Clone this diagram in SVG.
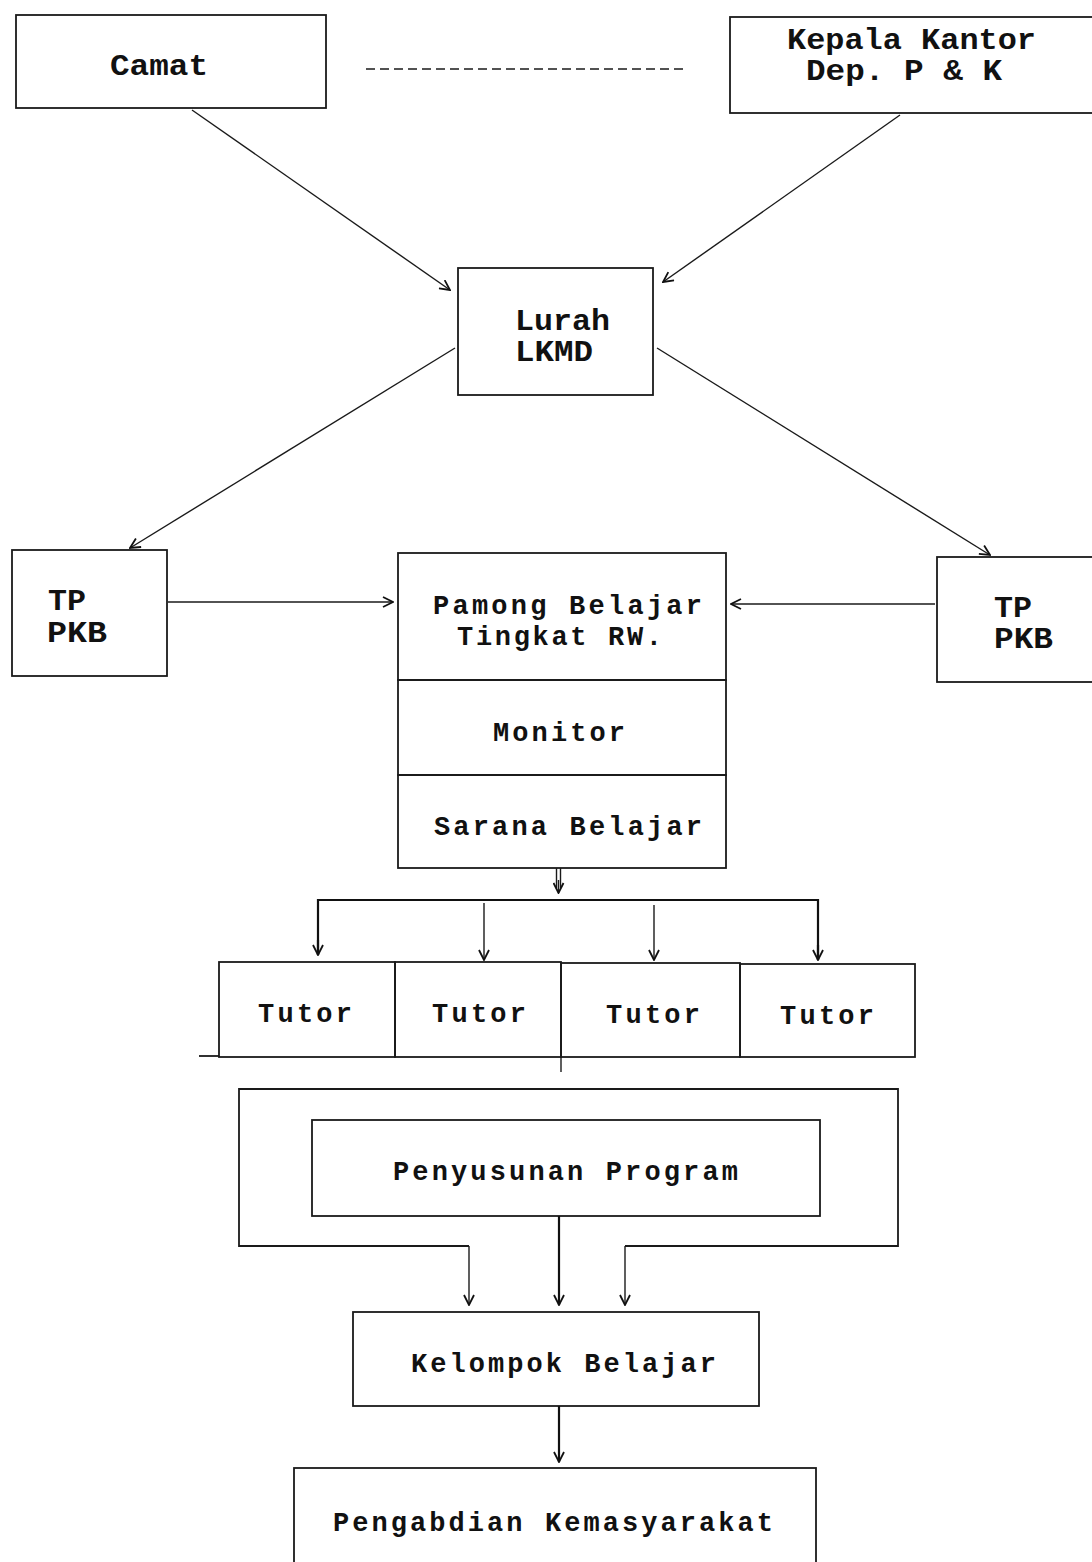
<svg xmlns="http://www.w3.org/2000/svg" width="1092" height="1562" viewBox="0 0 1092 1562">
<style>
.bx{fill:none;stroke:#1a1a1a;stroke-width:1.8}
.ln{fill:none;stroke:#1a1a1a;stroke-width:1.4}
.th{fill:none;stroke:#111;stroke-width:2.2}
.t{font-family:"Liberation Mono","Courier New",monospace;font-weight:bold;font-size:27px;fill:#111}
.u{font-size:30px}
</style>
<defs>
<marker id="a" viewBox="0 0 12 12" refX="11" refY="6" markerWidth="12" markerHeight="12" markerUnits="userSpaceOnUse" orient="auto">
<path d="M1,1 L11,6 L1,11" fill="none" stroke="#111" stroke-width="1.8"/>
</marker>
</defs>
<rect width="1092" height="1562" fill="#fff"/>

<g id="camat"><rect class="bx" x="16" y="15" width="310" height="93"/><text class="t u" x="110" y="75" textLength="98" lengthAdjust="spacingAndGlyphs">Camat</text></g>
<g id="kepala"><rect class="bx" x="730" y="17" width="370" height="96"/><text class="t u" x="787" y="49" textLength="249" lengthAdjust="spacingAndGlyphs">Kepala Kantor</text><text class="t u" x="806" y="80" textLength="196" lengthAdjust="spacingAndGlyphs">Dep. P &amp; K</text></g>
<g id="lurah"><rect class="bx" x="458" y="268" width="195" height="127"/><text class="t u" x="515" y="330" textLength="95" lengthAdjust="spacingAndGlyphs">Lurah</text><text class="t u" x="515" y="361" textLength="78" lengthAdjust="spacingAndGlyphs">LKMD</text></g>
<g id="tp-left"><rect class="bx" x="12" y="550" width="155" height="126"/><text class="t u" x="48" y="610" textLength="38" lengthAdjust="spacingAndGlyphs">TP</text><text class="t u" x="47" y="642" textLength="60" lengthAdjust="spacingAndGlyphs">PKB</text></g>
<g id="tp-right"><rect class="bx" x="937" y="557" width="170" height="125"/><text class="t u" x="994" y="617" textLength="38" lengthAdjust="spacingAndGlyphs">TP</text><text class="t u" x="994" y="648" textLength="59" lengthAdjust="spacingAndGlyphs">PKB</text></g>
<g id="pamong"><rect class="bx" x="398" y="553" width="328" height="127"/><text class="t" x="433" y="614" textLength="269" lengthAdjust="spacing">Pamong Belajar</text><text class="t" x="457" y="645" textLength="205" lengthAdjust="spacing">Tingkat RW.</text></g>
<g id="monitor"><rect class="bx" x="398" y="680" width="328" height="95"/><text class="t" x="493" y="741" textLength="132" lengthAdjust="spacing">Monitor</text></g>
<g id="sarana"><rect class="bx" x="398" y="775" width="328" height="93"/><text class="t" x="434" y="835" textLength="268" lengthAdjust="spacing">Sarana Belajar</text></g>
<g id="tutor1"><rect class="bx" x="219" y="962" width="176" height="95"/><text class="t" x="258" y="1022" textLength="94" lengthAdjust="spacing">Tutor</text></g>
<g id="tutor2"><rect class="bx" x="395" y="962" width="166" height="95"/><text class="t" x="432" y="1022" textLength="94" lengthAdjust="spacing">Tutor</text></g>
<g id="tutor3"><rect class="bx" x="561" y="963" width="179" height="94"/><text class="t" x="606" y="1023" textLength="94" lengthAdjust="spacing">Tutor</text></g>
<g id="tutor4"><rect class="bx" x="740" y="964" width="175" height="93"/><text class="t" x="780" y="1024" textLength="94" lengthAdjust="spacing">Tutor</text></g>
<g id="penyusunan"><rect class="bx" x="312" y="1120" width="508" height="96"/><text class="t" x="393" y="1180" textLength="345" lengthAdjust="spacing">Penyusunan Program</text></g>
<g id="kelompok"><rect class="bx" x="353" y="1312" width="406" height="94"/><text class="t" x="411" y="1372" textLength="305" lengthAdjust="spacing">Kelompok Belajar</text></g>
<g id="pengabdian"><rect class="bx" x="294" y="1468" width="522" height="110"/><text class="t" x="333" y="1531" textLength="440" lengthAdjust="spacing">Pengabdian Kemasyarakat</text></g>

<g id="connectors">
<line class="ln" x1="366" y1="69" x2="688" y2="69" stroke-dasharray="9,5"/>
<line class="ln" x1="192" y1="110" x2="450" y2="290" marker-end="url(#a)"/>
<line class="ln" x1="900" y1="115" x2="663" y2="282" marker-end="url(#a)"/>
<line class="ln" x1="455" y1="348" x2="130" y2="548" marker-end="url(#a)"/>
<line class="ln" x1="657" y1="348" x2="990" y2="555" marker-end="url(#a)"/>
<line class="ln" x1="168" y1="602" x2="393" y2="602" marker-end="url(#a)"/>
<line class="ln" x1="935" y1="604" x2="731" y2="604" marker-end="url(#a)"/>
<line class="ln" x1="556.5" y1="868" x2="556.5" y2="888"/>
<line class="ln" x1="560.5" y1="868" x2="560.5" y2="888"/>
<line class="ln" x1="558.5" y1="880" x2="558.5" y2="893" marker-end="url(#a)"/>
<path class="th" d="M318,955 V900 H818 V960"/>
<line class="th" x1="318" y1="940" x2="318" y2="955" marker-end="url(#a)"/>
<line class="th" x1="818" y1="945" x2="818" y2="960" marker-end="url(#a)"/>
<line class="ln" x1="484" y1="903" x2="484" y2="960" marker-end="url(#a)" stroke="#777"/>
<line class="ln" x1="654" y1="905" x2="654" y2="960" marker-end="url(#a)"/>
<line class="bx" x1="199" y1="1056" x2="219" y2="1056"/>
<line class="ln" x1="561" y1="1057" x2="561" y2="1072"/>
<path class="bx" d="M469,1246 H239 V1089 H898 V1246 H625"/>
<line class="ln" x1="469" y1="1246" x2="469" y2="1305" marker-end="url(#a)"/>
<line class="ln" x1="625" y1="1246" x2="625" y2="1305" marker-end="url(#a)"/>
<line class="th" x1="559" y1="1216" x2="559" y2="1305" marker-end="url(#a)"/>
<line class="th" x1="559" y1="1406" x2="559" y2="1462" marker-end="url(#a)"/>
</g>
</svg>
